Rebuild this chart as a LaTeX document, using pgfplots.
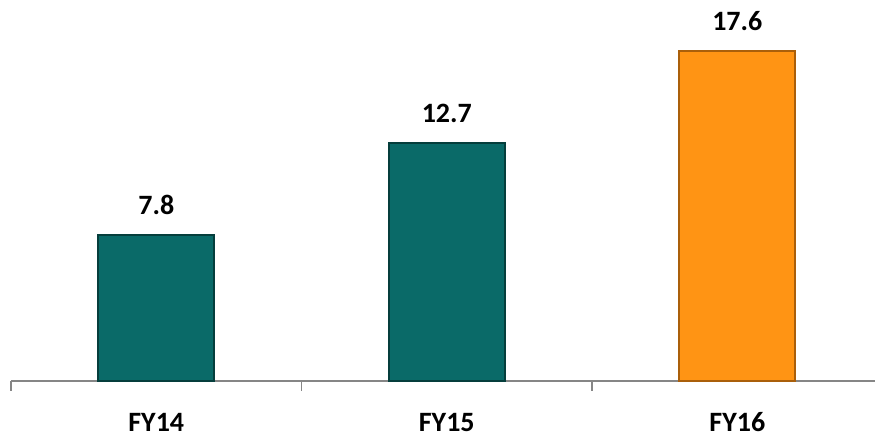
\documentclass[border=0pt]{standalone}
\usepackage{pgfplots}
\pgfplotsset{compat=1.18}
\usepackage{fontspec}
\setmainfont{Carlito}
\definecolor{teal1}{RGB}{10,106,104}
\definecolor{teal2}{RGB}{5,62,60}
\definecolor{org1}{RGB}{255,148,20}
\definecolor{org2}{RGB}{170,95,10}
\definecolor{axgray}{RGB}{134,134,134}
\begin{document}
\begin{tikzpicture}
\useasboundingbox (0,0) rectangle (437.5pt,219.5pt);
\begin{axis}[
  at={(5.5pt,29pt)}, anchor=south west,
  scale only axis, width=432pt, height=190.5pt,
  xmin=0, xmax=2.974, ymin=0, ymax=20.32,
  hide y axis, axis x line*=bottom,
  axis line style={axgray, line width=0.75pt},
  xtick={0.5,1.5,2.5}, xticklabels={FY14,FY15,FY16},
  minor xtick={0,1,2,3},
  major tick length=0pt, minor tick length=5pt, tick align=outside,
  minor tick style={axgray, line width=0.75pt},
  xticklabel style={font=\fontsize{14pt}{16pt}\selectfont\bfseries, anchor=base, yshift=-25.5pt, inner sep=0pt},
  ybar, bar width=58pt, bar shift=0pt,
  nodes near coords,
  every node near coord/.append style={font=\fontsize{14pt}{16pt}\selectfont\bfseries, anchor=base, inner sep=0pt, yshift=10pt, black},
  /pgf/number format/fixed, /pgf/number format/precision=1, /pgf/number format/fixed zerofill,
  /pgf/number format/assume math mode=true,
  clip=false,
]
\addplot[fill=teal1, draw=teal2, line width=0.8pt] coordinates {(0.5,7.8) (1.5,12.7)};
\addplot[fill=org1, draw=org2, line width=0.8pt] coordinates {(2.5,17.6)};
\end{axis}
\end{tikzpicture}
\end{document}
